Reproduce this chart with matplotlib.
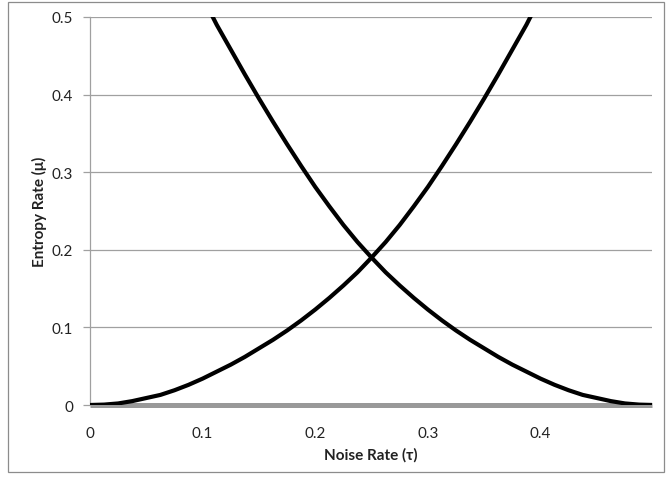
import matplotlib
matplotlib.use("Agg")
import matplotlib.pyplot as plt
from matplotlib.patches import Rectangle

plt.rcParams['font.family'] = ['Lato', 'DejaVu Sans']

# Rising curve
rise_x = [0.0, 0.0125, 0.025, 0.0375, 0.05, 0.0625, 0.075, 0.0875, 0.10,
          0.1125, 0.125, 0.1375, 0.15, 0.1625, 0.175, 0.1875, 0.20, 0.2125,
          0.225, 0.2375, 0.25, 0.2625, 0.275, 0.2875, 0.30, 0.3125, 0.325,
          0.3375, 0.35, 0.3625, 0.375, 0.3875, 0.391]
rise_y = [0.000, 0.0005, 0.002, 0.005, 0.009, 0.013, 0.019, 0.026, 0.034,
          0.043, 0.052, 0.062, 0.073, 0.084, 0.096, 0.109, 0.123, 0.138,
          0.154, 0.171, 0.190, 0.210, 0.232, 0.256, 0.281, 0.308, 0.336,
          0.365, 0.395, 0.426, 0.458, 0.490, 0.500]

# Falling curve
fall_x = [0.109, 0.1125, 0.125, 0.1375, 0.15, 0.1625, 0.175, 0.1875, 0.20,
          0.2125, 0.225, 0.2375, 0.25, 0.2625, 0.275, 0.2875, 0.30, 0.3125,
          0.325, 0.3375, 0.35, 0.3625, 0.375, 0.3875, 0.40, 0.4125, 0.425,
          0.4375, 0.45, 0.4625, 0.475, 0.4875, 0.50]
fall_y = [0.500, 0.490, 0.458, 0.426, 0.395, 0.365, 0.336, 0.308, 0.281,
          0.256, 0.232, 0.210, 0.190, 0.171, 0.154, 0.138, 0.123, 0.109,
          0.096, 0.084, 0.073, 0.062, 0.052, 0.043, 0.034, 0.026, 0.019,
          0.013, 0.009, 0.005, 0.002, 0.0005, 0.000]

zero_x = [0.0, 0.499]
zero_y = [0.0, 0.0]

x_ticks = [0, 0.1, 0.2, 0.3, 0.4]
x_tick_labels = ["0", "0.1", "0.2", "0.3", "0.4"]
y_ticks = [0, 0.1, 0.2, 0.3, 0.4, 0.5]
y_tick_labels = ["0", "0.1", "0.2", "0.3", "0.4", "0.5"]

W, H = 670, 481
fig = plt.figure(figsize=(W / 100, H / 100), dpi=100)
ax = fig.add_axes([90 / W, 1 - 406 / H, (652 - 90) / W, (406 - 18) / H])

# outer chart border
fig.patches.append(Rectangle((8 / W, 1 - 473 / H), (664 - 8) / W, (473 - 3) / H,
                             transform=fig.transFigure, fill=False,
                             edgecolor="#8c8c8c", linewidth=0.9))

grid_col = "#a0a0a0"
for yv in y_ticks[1:]:
    ax.axhline(yv, color=grid_col, linewidth=0.9, zorder=1)

ax.plot(zero_x, zero_y, color="#999999", linewidth=3.6, solid_capstyle="butt",
        zorder=2, clip_on=False)
ax.plot(rise_x, rise_y, color="black", linewidth=3.0, zorder=3,
        solid_joinstyle="round")
ax.plot(fall_x, fall_y, color="black", linewidth=3.0, zorder=3,
        solid_joinstyle="round")

ax.set_xlim(0, 0.499)
ax.set_ylim(0, 0.5)
ax.set_xticks(x_ticks)
ax.set_xticklabels(x_tick_labels)
ax.set_yticks(y_ticks)
ax.set_yticklabels(y_tick_labels)

for s in ["top", "right", "bottom"]:
    ax.spines[s].set_visible(False)
ax.spines["left"].set_color(grid_col)
ax.spines["left"].set_linewidth(0.9)

ax.tick_params(axis="y", length=5, width=0.9, color=grid_col, pad=7,
               labelsize=11, labelcolor="#222222")
ax.tick_params(axis="x", length=0, pad=15, labelsize=11, labelcolor="#222222")

fig.text(371 / W, 1 - 455 / H, "Noise Rate (τ)", ha="center", va="center",
         fontsize=11, fontweight="bold", color="#222222")
fig.text(39 / W, 1 - 212 / H, "Entropy Rate (μ)", ha="center", va="center",
         rotation=90, fontsize=11, fontweight="bold", color="#222222")

fig.savefig("out.png", dpi=100)
